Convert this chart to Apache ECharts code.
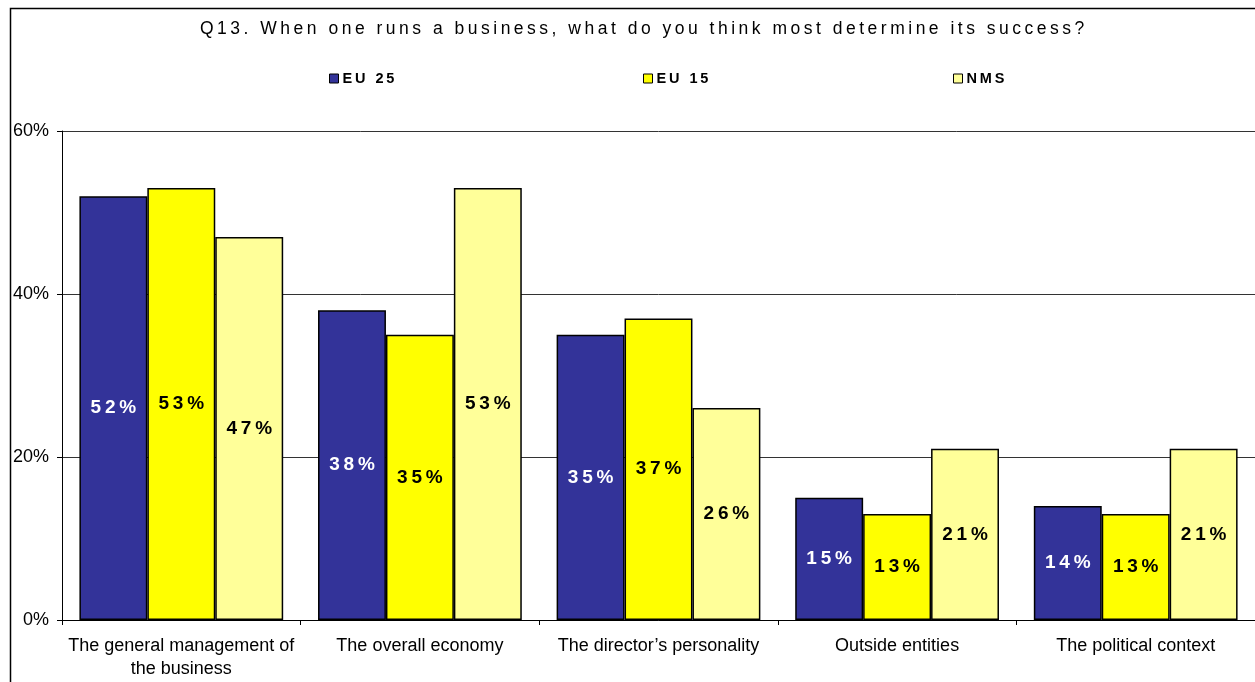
<!DOCTYPE html>
<html><head><meta charset="utf-8">
<script src="https://cdn.jsdelivr.net/npm/echarts@6/dist/echarts.min.js"></script>
<style>html,body{margin:0;padding:0;background:#fff}#c{width:1255px;height:682px}</style>
</head><body><div id="c"></div>
<script>
var titleText = 'Q13. When one runs a business, what do you think most determine its success?';
var categories = ['The general management of\nthe business', 'The overall economy', 'The director\u2019s personality', 'Outside entities', 'The political context'];
var seriesNames = ['EU 25', 'EU 15', 'NMS'];
var eu25 = [52, 38, 35, 15, 14];
var eu15 = [53, 35, 37, 13, 13];
var nms = [47, 53, 26, 21, 21];
var yTicks = [0, 20, 40, 60];

var colors = ['#333399', '#FFFF00', '#FFFF99'];
var labelColors = ['#ffffff', '#000000', '#000000'];
var values = [eu25, eu15, nms];

function spaced(s){ return s.split('').join('\u2009'); }

var series = seriesNames.map(function(n, i){
  return {
    name: n, type: 'bar', data: values[i], barGap: '0%', barCategoryGap: '14.6%',
    itemStyle: {color: colors[i], borderColor: '#000', borderWidth: 1.5},
    label: {show: true, position: 'inside', color: labelColors[i],
      fontFamily: 'Liberation Sans', fontWeight: 'bold', fontSize: 19,
      formatter: function(p){ return spaced(p.value + '%'); }},
    emphasis: {disabled: true}
  };
});

var legendX = [324, 638, 948];
var legends = seriesNames.map(function(n, i){
  return {data: [n], left: legendX[i], top: 66, itemWidth: 9, itemHeight: 9, itemGap: 0,
    icon: 'rect', selectedMode: false,
    itemStyle: {borderColor: '#000', borderWidth: 1},
    textStyle: {fontFamily: 'Liberation Sans', fontWeight: 'bold', fontSize: 14.5, color: '#000', padding: [0,0,0,-1]},
    formatter: function(s){ return spaced(s); }};
});

var chart = echarts.init(document.getElementById('c'), null, {renderer: 'canvas'});
chart.setOption({
  animation: false,
  backgroundColor: '#fff',
  graphic: [{type: 'rect', shape: {x: 10.5, y: 8.5, width: 1300, height: 700}, style: {fill: 'none', stroke: '#000', lineWidth: 1.5}, z: -1}],
  title: {text: spaced(titleText), left: 195, top: 15,
    textStyle: {fontFamily: 'Liberation Sans', fontWeight: 'normal', fontSize: 17.5, color: '#000'}},
  legend: legends,
  grid: {left: 62, right: -2, top: 131, bottom: 62, containLabel: false},
  xAxis: {type: 'category', data: categories,
    axisLine: {lineStyle: {color: '#000', width: 1}},
    axisTick: {show: true, length: 5, lineStyle: {color: '#000'}},
    axisLabel: {interval: 0, color: '#000', fontFamily: 'Liberation Sans', fontSize: 18, margin: 15, lineHeight: 23}},
  yAxis: {type: 'value', min: 0, max: 60, interval: 20,
    axisLine: {show: true, lineStyle: {color: '#000', width: 1}},
    axisTick: {show: true, length: 5, lineStyle: {color: '#000'}},
    splitLine: {show: true, lineStyle: {color: '#333', width: 1}},
    axisLabel: {color: '#000', fontFamily: 'Liberation Sans', fontSize: 18, margin: 13,
      formatter: function(v){ return yTicks.indexOf(v) >= 0 ? v + '%' : ''; }}},
  series: series
});
</script></body></html>
